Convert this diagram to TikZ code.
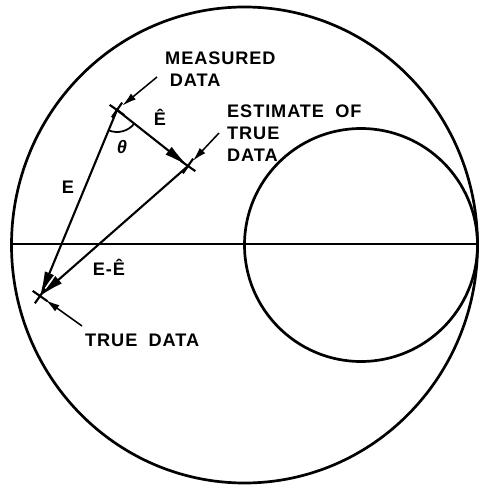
\documentclass[tikz,border=0pt]{standalone}
\usepackage{fontspec}
\setmainfont{Liberation Sans}
\newfontfamily\lblfont[LetterSpace=5, WordSpace=1.9]{Liberation Sans}
\usepackage{tikz}
\usetikzlibrary{arrows.meta, shapes.misc, positioning}

\begin{document}
\begin{tikzpicture}[
    x=0.03cm, y=-0.03cm,
    rim/.style={line width=2.3pt},
    axis/.style={line width=1.7pt},
    vec/.style={line width=1.8pt, -{Latex[length=21pt, width=8.5pt]}},
    pointer/.style={line width=1.3pt, -{Latex[length=12pt, width=6.5pt]}, shorten >=6pt},
    datapt/.style={cross out, draw, line width=1.8pt, minimum size=9pt, inner sep=0pt, rotate=10},
    label/.style={font=\fontsize{15.5}{18.5}\selectfont\lblfont\bfseries, inner sep=0pt, align=left},
  ]
  \useasboundingbox (0,0) rectangle (480,488);

  % chart outline
  \draw[rim] (244.5,245) ellipse [x radius=233, y radius=238];
  \draw[rim] (361,245) circle [radius=116.5];
  \draw[axis] (12,244) -- (477,244);

  % data points
  \node[datapt] (meas) at (117,110) {};
  \node[datapt] (est) at (188,166) {};
  \node[datapt] (truept) at (40,296) {};

  \draw[vec] (meas.center) -- (est.center);
  \draw[vec] (meas.center) -- (truept.center);
  \draw[vec] (est.center) -- (truept.center);
  \draw[line width=1.5pt] (meas.center) ++(38.3:22) arc[start angle=38.3, end angle=112.5, radius=22];

  \node[label] (elbl) at (68,187) {E};
  \node[label] (ehatlbl) at (160,117) {Ê};
  \node[label] (theta) at (122,147) {\itshape θ};
  \node[label] (difflbl) at (109,267) {E-Ê};

  % labels and pointers
  \node[label, anchor=north west] (measlbl) at (165,52) {MEASURED\\\hspace{4pt}DATA};
  \node[label, anchor=north west] (estlbl) at (227,105) {ESTIMATE OF\\TRUE\\DATA};
  \node[label, anchor=west] (truelbl) at (85,340) {TRUE DATA};

  \coordinate (measptr) at (157,77);
  \coordinate (estptr) at (219,133);
  \coordinate (trueptr) at (82,326);
  \draw[pointer] (measptr) -- (meas.center);
  \draw[pointer] (estptr) -- (est.center);
  \draw[pointer] (trueptr) -- (truept.center);

\end{tikzpicture}
\end{document}
